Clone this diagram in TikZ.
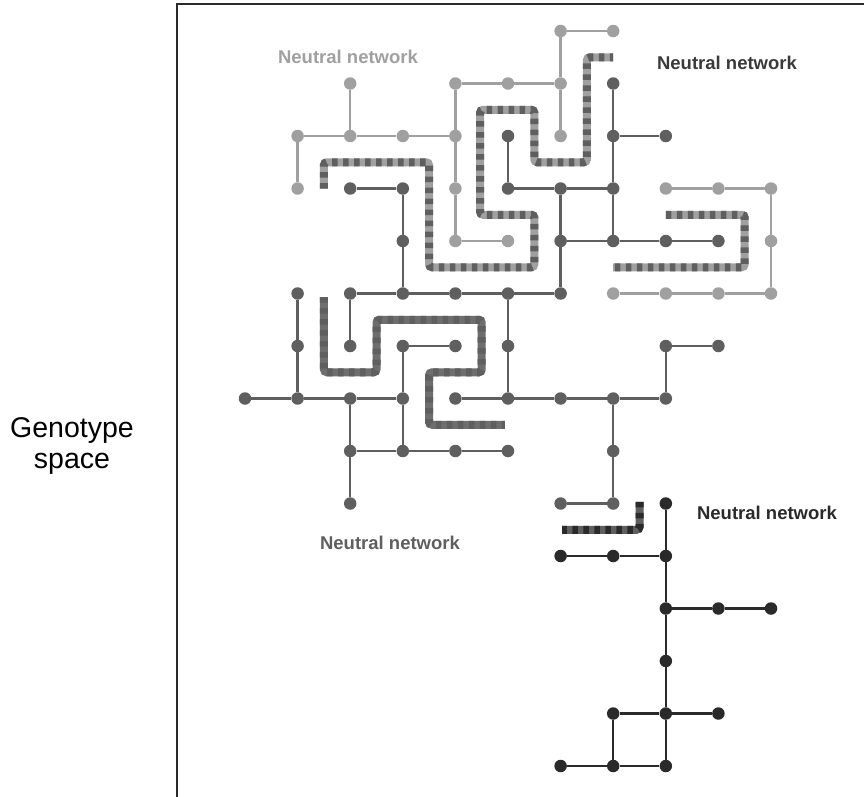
\documentclass[tikz,border=0pt]{standalone}
\usepackage{fontspec}
\setmainfont{Liberation Sans}
\definecolor{lgray}{HTML}{A0A0A0}
\definecolor{mgray}{HTML}{5F5F5F}
\definecolor{dgray}{HTML}{2A2A2A}
\definecolor{tgray}{HTML}{3A3A3A}
\definecolor{pthree}{HTML}{6E6E6E}
\tikzset{
  gnode/.style={circle,inner sep=0pt,minimum size=12.5pt,fill=#1},
  ln/.style={gnode=lgray}, mn/.style={gnode=mgray}, dn/.style={gnode=dgray},
  ledge/.style={draw=lgray,line width=2.4pt},
  medge/.style={draw=mgray,line width=2.4pt},
  dedge/.style={draw=dgray,line width=2.4pt},
  stripebase/.style={draw=#1,line width=8pt,rounded corners=3pt},
  stripetop/.style={draw=#1,line width=8pt,rounded corners=3pt,dash pattern=on 5.5pt off 5.5pt},
  netlabel/.style={font=\bfseries\fontsize{18.5}{21}\selectfont,text=#1,inner sep=0pt},
  sidelabel/.style={font=\fontsize{28.5}{31}\selectfont,anchor=base,inner sep=0pt},
}
\begin{document}
\begin{tikzpicture}[x=52.6pt,y=-52.5pt]
\useasboundingbox[fill=white] (-245pt,31pt) rectangle (619pt,-765pt);
% frame
\draw[line width=2.4pt,color=dgray] (-68pt,-770pt) -- (-68pt,27pt) -- (625pt,27pt);
% side label
\node[sidelabel] (gl1) at (-173pt,-406pt) {Genotype};
\node[sidelabel] (gl2) at (-173pt,-437pt) {space};
% network labels
\node[netlabel=lgray] (lab1) at (103pt,-26pt) {Neutral network};
\node[netlabel=tgray] (lab2) at (482pt,-32pt) {Neutral network};
\node[netlabel=mgray] (lab3) at (145pt,-512pt) {Neutral network};
\node[netlabel=dgray] (lab4) at (522pt,-482pt) {Neutral network};
% striped paths
\coordinate (p1s) at (1.5,3); \coordinate (p1e) at (7,0.5);
\draw[stripebase=lgray] (p1s) -- (1.5,2.5) -- (3.5,2.5) -- (3.5,4.5) -- (5.5,4.5) -- (5.5,3.5) -- (4.47,3.5) -- (4.47,1.5) -- (5.5,1.5) -- (5.5,2.5) -- (6.5,2.5) -- (6.5,0.5) -- (p1e);
\draw[stripetop=mgray] (p1s) -- (1.5,2.5) -- (3.5,2.5) -- (3.5,4.5) -- (5.5,4.5) -- (5.5,3.5) -- (4.47,3.5) -- (4.47,1.5) -- (5.5,1.5) -- (5.5,2.5) -- (6.5,2.5) -- (6.5,0.5) -- (p1e);
\coordinate (p2s) at (8,3.5); \coordinate (p2e) at (7,4.5);
\draw[stripebase=lgray] (p2s) -- (9.5,3.5) -- (9.5,4.5) -- (p2e);
\draw[stripetop=mgray] (p2s) -- (9.5,3.5) -- (9.5,4.5) -- (p2e);
\coordinate (p3s) at (1.5,5.07); \coordinate (p3e) at (4.94,7.5);
\draw[stripebase=pthree] (p3s) -- (1.5,6.5) -- (2.5,6.5) -- (2.5,5.5) -- (4.5,5.5) -- (4.5,6.5) -- (3.5,6.5) -- (3.5,7.5) -- (p3e);
\draw[stripetop=mgray] (p3s) -- (1.5,6.5) -- (2.5,6.5) -- (2.5,5.5) -- (4.5,5.5) -- (4.5,6.5) -- (3.5,6.5) -- (3.5,7.5) -- (p3e);
\coordinate (p4s) at (7.5,8.97); \coordinate (p4e) at (6.03,9.5);
\draw[stripebase=mgray] (p4s) -- (7.5,9.5) -- (p4e);
\draw[stripetop=dgray] (p4s) -- (7.5,9.5) -- (p4e);
% light nodes
\foreach \c/\r in {2/1,4/1,5/1,6/0,7/0,6/1,6/2,1/2,2/2,3/2,4/2,1/3,4/3,4/4,5/4,8/3,9/3,10/3,10/4,10/5,9/5,8/5,7/5}
  \node[ln] (n\c-\r) at (\c,\r) {};
% medium nodes
\foreach \c/\r in {7/1,7/2,8/2,5/2,5/3,6/3,7/3,6/4,7/4,8/4,9/4,2/3,3/3,3/4,1/5,2/5,3/5,4/5,5/5,6/5,1/6,2/6,3/6,4/6,5/6,8/6,9/6,0/7,1/7,2/7,3/7,4/7,5/7,6/7,7/7,8/7,2/8,3/8,4/8,5/8,7/8,2/9,6/9,7/9}
  \node[mn] (n\c-\r) at (\c,\r) {};
% dark nodes
\foreach \c/\r in {8/9,8/10,8/11,8/12,8/13,8/14,6/10,7/10,9/11,10/11,7/13,9/13,6/14,7/14}
  \node[dn] (n\c-\r) at (\c,\r) {};
% light edges
\path[ledge] (n2-1) -- (n2-2) (n1-2) -- (n2-2) -- (n3-2) -- (n4-2) (n1-2) -- (n1-3)
  (n4-1) -- (n5-1) -- (n6-1) (n4-1) -- (n4-2) -- (n4-3) -- (n4-4) -- (n5-4)
  (n6-0) -- (n7-0) (n6-0) -- (n6-1) -- (n6-2)
  (n8-3) -- (n9-3) -- (n10-3) -- (n10-4) -- (n10-5) -- (n9-5) -- (n8-5) -- (n7-5);
% medium edges
\path[medge] (n7-1) -- (n7-2) -- (n7-3) -- (n7-4) (n7-2) -- (n8-2)
  (n5-2) -- (n5-3) -- (n6-3) -- (n7-3) (n6-3) -- (n6-4) -- (n6-5)
  (n6-4) -- (n7-4) -- (n8-4) -- (n9-4)
  (n2-3) -- (n3-3) -- (n3-4) -- (n3-5)
  (n2-5) -- (n3-5) -- (n4-5) -- (n5-5) -- (n6-5)
  (n1-5) -- (n1-6) -- (n1-7) (n2-5) -- (n2-6)
  (n5-5) -- (n5-6) -- (n5-7)
  (n0-7) -- (n1-7) -- (n2-7) -- (n3-7)
  (n4-7) -- (n5-7) -- (n6-7) -- (n7-7) -- (n8-7)
  (n8-7) -- (n8-6) -- (n9-6)
  (n7-7) -- (n7-8) -- (n7-9) -- (n6-9)
  (n3-6) -- (n4-6) (n3-6) -- (n3-7) -- (n3-8)
  (n2-8) -- (n3-8) -- (n4-8) -- (n5-8)
  (n2-7) -- (n2-8) -- (n2-9);
% dark edges
\path[dedge] (n8-9) -- (n8-10) -- (n8-11) -- (n8-12) -- (n8-13) -- (n8-14)
  (n6-10) -- (n7-10) -- (n8-10) (n8-11) -- (n9-11) -- (n10-11)
  (n7-13) -- (n8-13) -- (n9-13) (n7-13) -- (n7-14) (n6-14) -- (n7-14) -- (n8-14);
\end{tikzpicture}
\end{document}
